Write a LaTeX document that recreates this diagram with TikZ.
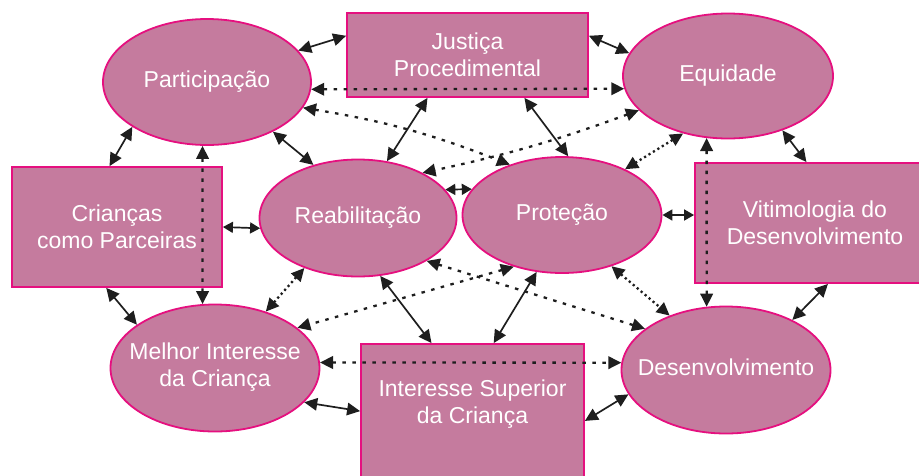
\documentclass[tikz,border=0pt]{standalone}
\usepackage{fontspec}
\setmainfont{Liberation Sans}
\usetikzlibrary{arrows.meta, shapes.geometric}
\definecolor{mauvefill}{HTML}{C57B9E}
\definecolor{mauveedge}{HTML}{E5107F}
\definecolor{arrowdark}{HTML}{1E1E1E}
\newcommand{\ovaltext}[1]{\makebox[0pt]{\begin{tabular}{@{}c@{}}#1\end{tabular}}}

\begin{document}
\begin{tikzpicture}[x=1pt, y=-1pt,
    every node/.style={font=\fontsize{23}{27}\selectfont, text=white},
    oval/.style={ellipse, draw=mauveedge, fill=mauvefill, line width=1.8pt, inner sep=0pt},
    box/.style={rectangle, draw=mauveedge, fill=mauvefill, line width=1.8pt, inner sep=0pt, align=center},
    link/.style={<->, draw=arrowdark, line width=1.7pt},
    shortlink/.style={link, >={Triangle[length=10pt, width=11pt]}},
    dashlink/.style={<->, draw=arrowdark, line width=2.3pt, dash pattern=on 3.5pt off 6.5pt},
    dotlink/.style={<->, draw=arrowdark, line width=2.3pt, dash pattern=on 2.2pt off 3pt},
    >={Triangle[length=13pt, width=12.5pt]}]
    \useasboundingbox (0,0) rectangle (919,475);
    \clip (0,0) rectangle (919,475);
    % outer ring of concepts
    \node[oval, minimum width=208pt, minimum height=126pt] (part) at (207,82) {\ovaltext{Participação}};
    \node[box, minimum width=241pt, minimum height=84pt] (just) at (467.5,55) {Justiça\\Procedimental};
    \node[oval, minimum width=210pt, minimum height=125pt] (equi) at (728,76) {\ovaltext{Equidade}};
    \node[box, minimum width=210pt, minimum height=120pt] (cria) at (117,227) {Crianças\\como Parceiras};
    \node[box, minimum width=240pt, minimum height=120pt] (viti) at (815,223) {Vitimologia do\\Desenvolvimento};
    \node[oval, minimum width=209pt, minimum height=127pt] (melh) at (215,368) {\ovaltext{Melhor Interesse\\da Criança}};
    \node[box, minimum width=223pt, minimum height=146pt] (intr) at (472.5,417) {};
    \node[align=center] (intrtext) at (472.5,404) {Interesse Superior\\da Criança};
    \node[oval, minimum width=209pt, minimum height=127pt] (dese) at (726,370) {\ovaltext{Desenvolvimento}};
    % centre pair
    \node[oval, minimum width=197pt, minimum height=117pt] (reab) at (358,218) {\ovaltext{Reabilitação}};
    \node[oval, minimum width=199pt, minimum height=116pt] (prot) at (562,215) {\ovaltext{Proteção}};
    % solid links
    \draw[link] (part.19) -- (just.171);
    \draw[link] (just.9) -- (equi.167);
    \draw[link] (part.211) -- (cria.97);
    \draw[link] (part.323) -- (reab.130);
    \draw[link] (just.227) -- (reab.63);
    \draw[link] (just.323) -- (prot.84);
    \draw[link] (equi.315) -- (viti.98);
    \draw[shortlink] (cria.east) -- (reab.186);
    \draw[shortlink] (reab.18) -- (prot.164);
    \draw[shortlink] (prot.east) -- (prot.east -| viti.west);
    \draw[link] (cria.260) -- (melh.151);
    \draw[link] (reab.291) -- (intr.119);
    \draw[link] (prot.246) -- (intr.74);
    \draw[link] (viti.282) -- (dese.37);
    \draw[link] (melh.339) -- (intr.177);
    \draw[link] (intr.358) -- (dese.194);
    % dotted links
    \draw[dashlink] (part.356) -- (equi.187);
    \draw[dashlink] (melh.3) -- (dese.176);
    \draw[dashlink] (part.266) -- (melh.101);
    \draw[dashlink] (equi.251) -- (dese.107);
    \draw[dashlink] (part.345) to[bend left=6] (prot.136);
    \draw[dashlink] (equi.201) to[bend left=4] (reab.35);
    \draw[dotlink] (equi.232) -- (prot.36);
    \draw[dotlink] (reab.223) -- (melh.48);
    \draw[dashlink] (prot.227) -- (melh.26);
    \draw[dashlink] (reab.328) -- (dese.153);
    \draw[dotlink] (prot.314) -- (dese.136);
\end{tikzpicture}
\end{document}
